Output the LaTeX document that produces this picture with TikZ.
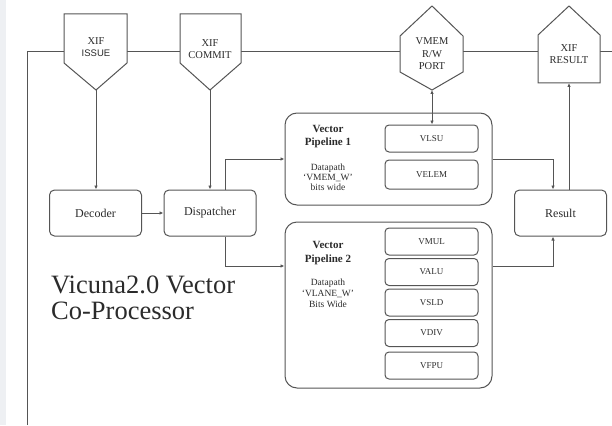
\documentclass[tikz,border=0pt]{standalone}
\usepackage{fontspec}
\setmainfont{Liberation Serif}
\newfontfamily\issuefont{Liberation Sans}
\usetikzlibrary{arrows.meta,calc}
\definecolor{linegray}{HTML}{555555}
\definecolor{textgray}{HTML}{2B2B2B}
\definecolor{stripgray}{HTML}{EEF0F3}

\begin{document}
\begin{tikzpicture}[x=1pt,y=-1pt,
  line/.style={draw=linegray,line width=1pt},
  arr/.style={line,-{Latex[length=4pt,width=3.5pt]}},
  blk/.style={line,rounded corners=5pt,fill=white,minimum width=92pt,minimum height=46pt,text=textgray,font=\fontsize{12}{14}\selectfont},
  unit/.style={line,rounded corners=4pt,minimum width=93pt,minimum height=27pt,text=textgray,font=\fontsize{9}{11}\selectfont},
  pipe/.style={line,rounded corners=12pt,minimum width=207pt},
  port/.style={line,fill=white},
  lbl/.style={align=center,text=textgray,font=\fontsize{10.5}{12.5}\selectfont}]
    \useasboundingbox (0,0) rectangle (612,425);
    \fill[stripgray] (0,0) rectangle (6,425);
    \draw[line] (27,425) -- (27,52) -- (612,52);

    \draw[port] (64,14) -- (127,14) -- (127,63) -- (96,90) coordinate (issue) -- (64,63) -- cycle;
    \node[lbl] (issuetxt) at (96,47) {XIF\\{\issuefont\fontsize{9.5}{12.5}\selectfont ISSUE}};
    \draw[port] (180,14) -- (241,14) -- (241,63) -- (210,90) coordinate (commit) -- (180,63) -- cycle;
    \node[lbl] (committxt) at (210,49) {XIF\\COMMIT};
    \draw[port] (432,6) -- (463,36) -- (463,72) -- (432,90) coordinate (vmem) -- (400,72) -- (400,36) -- cycle;
    \node[lbl] (vmemtxt) at (432,54) {VMEM\\R/W\\PORT};
    \draw[port] (569,6) -- (600,35) -- (600,83) -- (569,83) coordinate (xres) -- (538,83) -- (538,35) -- cycle;
    \node[lbl] (xrestxt) at (569,54) {XIF\\RESULT};

    \node[blk] (decoder) at (95.5,213) {Decoder};
    \node[blk] (dispatcher) at (210,213) {Dispatcher};
    \node[blk] (result) at (560.5,213) {Result};

    \node[pipe,minimum height=92pt] (pipe1) at (388.5,159) {};
    \node[pipe,minimum height=166pt] (pipe2) at (388.5,305) {};
    \node[lbl,font=\bfseries\fontsize{11}{13}\selectfont] (p1name) at (328,137) {Vector\\Pipeline 1};
    \node[lbl,font=\fontsize{9.5}{10}\selectfont] (p1width) at (328,177) {Datapath\\`VMEM\_W'\\bits wide};
    \node[lbl,font=\bfseries\fontsize{11}{14}\selectfont] (p2name) at (328,253) {Vector\\Pipeline 2};
    \node[lbl,font=\fontsize{9.5}{11}\selectfont] (p2width) at (328,293) {Datapath\\`VLANE\_W'\\Bits Wide};

    \node[unit] (vlsu) at (431.5,138.5) {VLSU};
    \node[unit,minimum height=29pt] (velem) at (431.5,174.5) {VELEM};
    \foreach \u/\y in {VMUL/241.5,VALU/272,VSLD/302.5,VDIV/333,VFPU/365.5}
        \node[unit] (\u) at (431.5,\y) {\u};

    \draw[arr] (issue) -- (issue |- decoder.north);
    \draw[arr] (commit) -- (dispatcher.north);
    \draw[arr] (decoder) -- (dispatcher);
    \draw[arr] ([xshift=15pt]dispatcher.north) |- (pipe1.west);
    \draw[arr] ([xshift=15pt]dispatcher.south) |- ([yshift=39pt]pipe2.west);
    \draw[arr] (pipe1.east) -| ([xshift=-7.5pt]result.north);
    \draw[arr] ([yshift=39pt]pipe2.east) -| ([xshift=-7.5pt]result.south);
    \draw[arr] (xres |- result.north) -- (xres);
    \draw[line,{Latex[length=4pt,width=3.5pt]}-{Latex[length=4pt,width=3.5pt]}] (vmem) -- (vmem |- vlsu.north);

    \node[anchor=base west,align=left,inner sep=0pt,text=textgray,font=\fontsize{26.5}{26}\selectfont] (title) at (51,319) {Vicuna2.0 Vector\\Co-Processor};
\end{tikzpicture}
\end{document}
